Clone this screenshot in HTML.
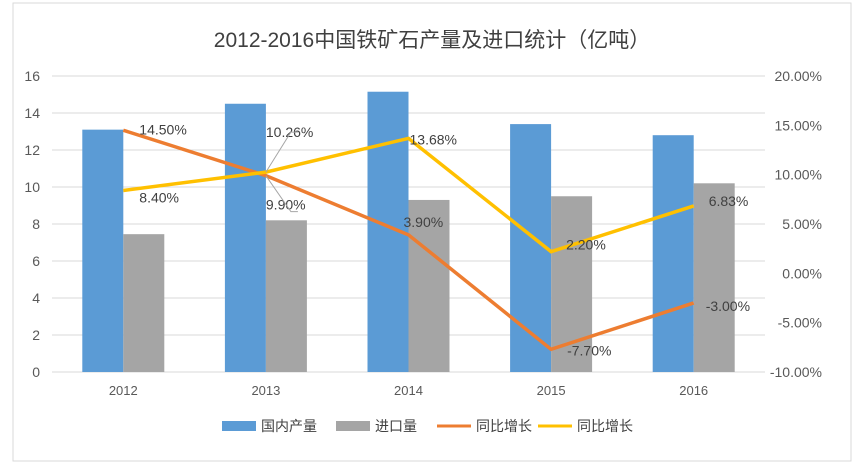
<!DOCTYPE html>
<html><head><meta charset="utf-8"><style>
body{margin:0;background:#fff;}
svg{display:block;font-family:"Liberation Sans","Noto Sans CJK SC",sans-serif;}
</style></head><body>
<svg id="c" width="864" height="473">
<rect x="13" y="3" width="838" height="458" fill="#fff" stroke="#d9d9d9"/>
<text x="432" y="47" text-anchor="middle" font-size="21" fill="#404040">2012-2016中国铁矿石产量及进口统计（亿吨）</text>
<g id="grid"></g><g id="bars"></g><g id="lines"></g><g id="labels"></g>
<g font-size="14" fill="#404040">
<rect x="222" y="421" width="34" height="10" fill="#5b9bd5"/>
<text x="261" y="431">国内产量</text>
<rect x="336" y="421" width="34" height="10" fill="#a5a5a5"/>
<text x="375" y="431">进口量</text>
<line x1="437" y1="426" x2="471" y2="426" stroke="#ed7d31" stroke-width="3"/>
<text x="476" y="431">同比增长</text>
<line x1="538" y1="426" x2="572" y2="426" stroke="#ffc000" stroke-width="3"/>
<text x="577" y="431">同比增长</text>
</g>
</svg>
<script>
const categories=["2012","2013","2014","2015","2016"];
const domestic=[13.1,14.5,15.15,13.4,12.8];
const imports=[7.45,8.2,9.3,9.5,10.2];
const orangeGrowth=[14.5,9.9,3.9,-7.7,-3.0];
const yellowGrowth=[8.4,10.26,13.68,2.2,6.83];
const orangeLabels=["14.50%","9.90%","3.90%","-7.70%","-3.00%"];
const yellowLabels=["8.40%","10.26%","13.68%","2.20%","6.83%"];
const leftTicks=[0,2,4,6,8,10,12,14,16];
const rightTicks=[-10,-5,0,5,10,15,20];
const NS="http://www.w3.org/2000/svg";
const X0=52,X1=765,Y0=372,Y1=76;
const bw=(X1-X0)/categories.length;
const cx=i=>X0+bw*(i+0.5);
const yL=v=>Y0-(v/16)*(Y0-Y1);
const yR=v=>Y0-((v+10)/30)*(Y0-Y1);
function mk(tag,a,p,txt){const e=document.createElementNS(NS,tag);for(const k in a)e.setAttribute(k,a[k]);if(txt!=null)e.textContent=txt;document.getElementById(p).appendChild(e);return e;}
leftTicks.forEach(t=>{const l=mk('line',{x1:X0,x2:X1,y1:yL(t),y2:yL(t),stroke:'#d9d9d9'},'grid');


const tx=mk('text',{x:40,y:yL(t)+5,'text-anchor':'end','font-size':14,fill:'#595959'},'grid',t);

});
rightTicks.forEach(t=>{const tx=mk('text',{x:822,y:yR(t)+5,'text-anchor':'end','font-size':14,fill:'#595959'},'grid',t.toFixed(2)+'%');

});
categories.forEach((c,i)=>{
const b1=mk('rect',{x:cx(i)-41,y:yL(domestic[i]),width:41,height:Y0-yL(domestic[i]),fill:'#5b9bd5'},'bars');


const b2=mk('rect',{x:cx(i),y:yL(imports[i]),width:41,height:Y0-yL(imports[i]),fill:'#a5a5a5'},'bars');


const t=mk('text',{x:cx(i),y:395,'text-anchor':'middle','font-size':13,fill:'#595959'},'grid',c);


});
const po=orangeGrowth.map((v,i)=>cx(i)+','+yR(v)).join(' ');
const lo=mk('polyline',{points:po,fill:'none',stroke:'#ed7d31','stroke-width':3.5},'lines');


const py=yellowGrowth.map((v,i)=>cx(i)+','+yR(v)).join(' ');
const ly=mk('polyline',{points:py,fill:'none',stroke:'#ffc000','stroke-width':3.5},'lines');


const oOff=[[16,4],[0,34],[-5,-8],[16,6],[12,8]];
const yOff=[[16,12],[0,-35],[1,6],[15,-2],[15,0]];
categories.forEach((c,i)=>{
const a=mk('text',{x:cx(i)+oOff[i][0],y:yR(orangeGrowth[i])+oOff[i][1],'font-size':14,fill:'#404040'},'labels',orangeLabels[i]);


const b=mk('text',{x:cx(i)+yOff[i][0],y:yR(yellowGrowth[i])+yOff[i][1],'font-size':14,fill:'#404040'},'labels',yellowLabels[i]);


});
const l1=mk('polyline',{points:`${cx(1)},${yR(yellowGrowth[1])} ${cx(1)+25},${yR(yellowGrowth[1])-40} ${cx(1)+32},${yR(yellowGrowth[1])-40}`,fill:'none',stroke:'#a6a6a6'},'labels');


const l2=mk('polyline',{points:`${cx(1)},${yR(orangeGrowth[1])} ${cx(1)+25},${yR(orangeGrowth[1])+36} ${cx(1)+32},${yR(orangeGrowth[1])+36}`,fill:'none',stroke:'#a6a6a6'},'labels');


</script>
</body></html>
